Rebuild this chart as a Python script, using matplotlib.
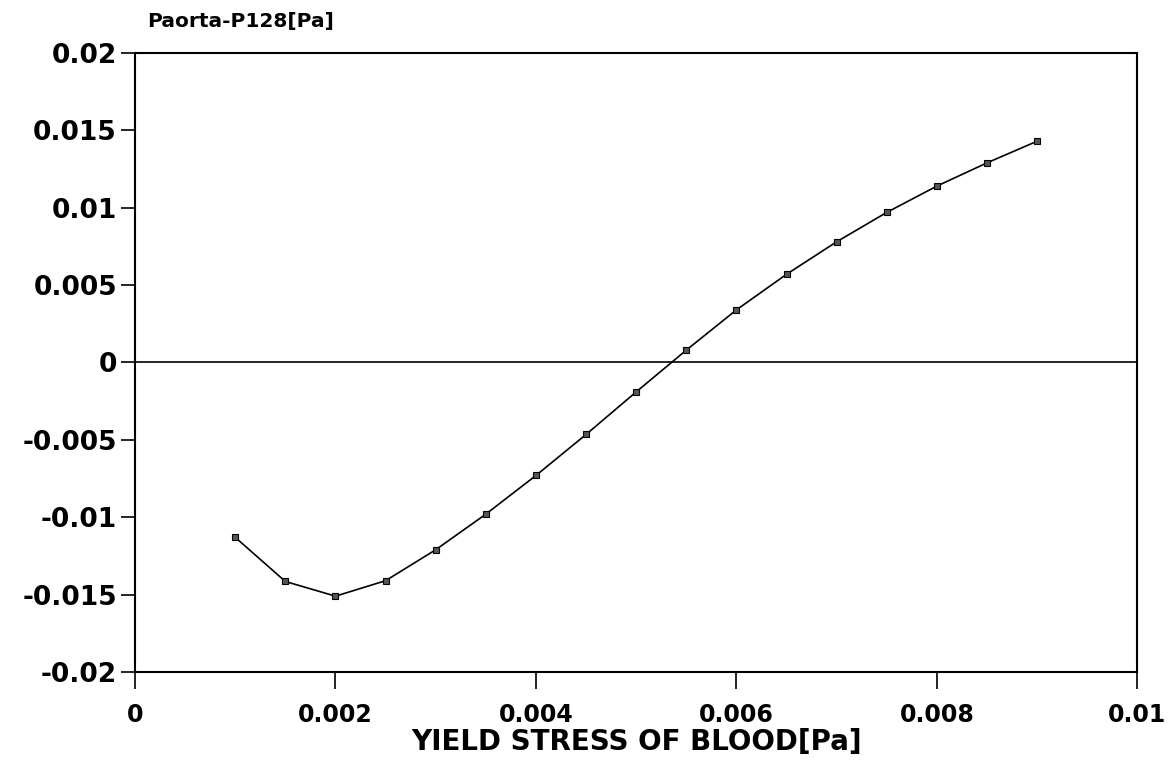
import matplotlib
matplotlib.use("Agg")
import matplotlib.pyplot as plt

# yield stress values and pressure difference
yield_stress = [0.001, 0.0015, 0.002, 0.0025, 0.003, 0.0035, 0.004, 0.0045, 0.005,
                0.0055, 0.006, 0.0065, 0.007, 0.0075, 0.008, 0.0085, 0.009]
dp = [-0.0113, -0.01415, -0.0151, -0.0141, -0.0121, -0.0098, -0.0073, -0.00465, -0.0019,
      0.0008, 0.0034, 0.0057, 0.0078, 0.0097, 0.0114, 0.0129, 0.0143]

xticks = [0, 0.002, 0.004, 0.006, 0.008, 0.01]
xtick_labels = ["0", "0.002", "0.004", "0.006", "0.008", "0.01"]
yticks = [0.02, 0.015, 0.01, 0.005, 0, -0.005, -0.01, -0.015, -0.02]
ytick_labels = ["0.02", "0.015", "0.01", "0.005", "0", "-0.005", "-0.01", "-0.015", "-0.02"]

plt.rcParams['font.family'] = ['DejaVu Sans']

fig = plt.figure(figsize=(11.71, 7.71), dpi=100)
ax = fig.add_axes([0.1153, 0.1284, 0.856, 0.8029])

ax.axhline(0, color='black', lw=1.2)
ax.plot(yield_stress, dp, color='black', lw=1.2, marker='s', markersize=5,
        markerfacecolor='#555555', markeredgecolor='black', markeredgewidth=0.8)

ax.set_xlim(0, 0.01)
ax.set_ylim(-0.02, 0.02)
ax.set_xticks(xticks)
ax.set_xticklabels(xtick_labels, fontsize=17, fontweight='bold')
ax.set_yticks(yticks)
ax.set_yticklabels(ytick_labels, fontsize=19, fontweight='bold')
ax.tick_params(axis='x', direction='out', length=12, width=1.2, pad=10)
ax.tick_params(axis='y', direction='out', length=10, width=1.2, pad=3)

for s in ax.spines.values():
    s.set_linewidth(1.5)

ax.set_xlabel("YIELD STRESS OF BLOOD[Pa]", fontsize=20, fontweight='bold', labelpad=1)
fig.text(0.1255, 0.972, "Paorta-P128[Pa]", fontsize=14.5, fontweight='bold',
         ha='left', va='center')

fig.savefig("out.png", dpi=100)
